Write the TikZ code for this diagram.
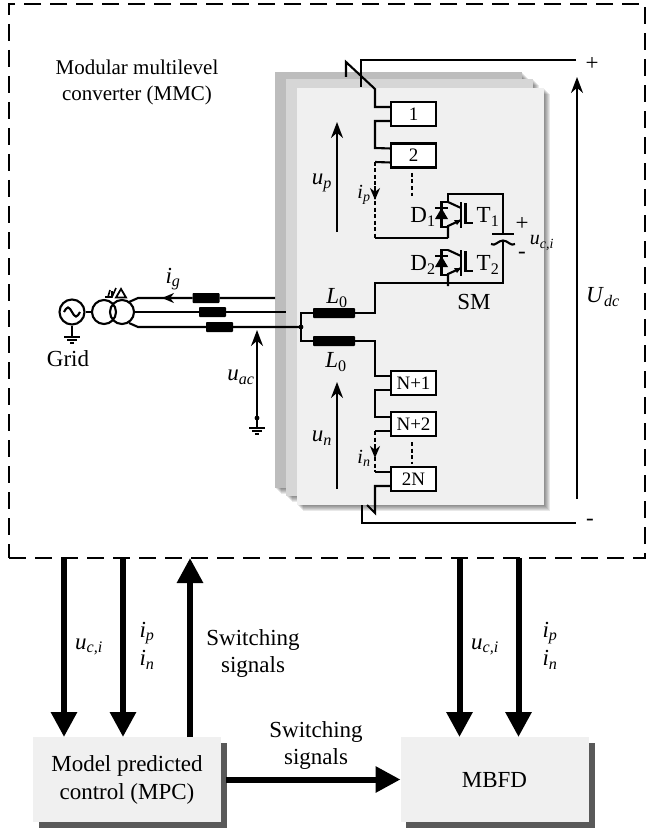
\documentclass[tikz,border=0pt]{standalone}
\usepackage{fontspec}
\setmainfont{Liberation Serif}
\usetikzlibrary{arrows.meta}
\newcommand{\sym}[2]{\textit{#1}\textsubscript{\textit{#2}}}
\tikzset{
	lbl/.style={inner sep=0pt, font=\fontsize{23}{27}\selectfont},
	small/.style={inner sep=0pt, font=\fontsize{20}{24}\selectfont},
	wire/.style={line width=2.1pt},
	dotwire/.style={line width=2.6pt, dash pattern=on 4pt off 2.5pt},
	smbox/.style={draw, fill=white, line width=2.1pt, minimum width=45pt, minimum height=24pt, inner sep=0pt, outer sep=0pt, font=\fontsize{19}{22}\selectfont},
	filt/.style={fill=black, rounded corners=0.8pt, minimum width=27pt, minimum height=10pt, inner sep=0pt, outer sep=0pt},
	block/.style={fill=black!6, minimum width=188pt, minimum height=85pt, inner sep=0pt, outer sep=0pt, align=center, font=\fontsize{23}{28}\selectfont},
	block shade/.style={fill=black!65},
	bigarrow/.style={line width=6pt, -{Triangle[length=25pt, width=25pt]}},
	thinarrow/.style={line width=2.2pt, -{Stealth[length=16pt, width=12pt]}},
	gnd/.pic={
		\draw[wire] (-8,0) -- (8,0);
		\draw[wire] (-5,3) -- (5,3);
		\draw[wire] (-2,6) -- (2,6);
	}
}
\begin{document}
\begin{tikzpicture}[x=1pt, y=-1pt, >=stealth]
	\useasboundingbox (0,0) rectangle (646,829);

	% Panels
	\foreach \xa/\ya/\xb/\yb/\shade in {275/72/522/488/26, 286/79/533/496/16, 297/88/544/505/6}{
		\foreach \s in {1,...,6}
			\fill[black, opacity=0.09] (\xa+\s,\ya+\s) rectangle (\xb+\s,\yb+\s);
		\fill[black!\shade] (\xa,\ya) rectangle (\xb,\yb);
	}

	% Converter frame
	\node[draw, dash pattern=on 17pt off 9pt, line width=2.8pt, minimum width=636pt, minimum height=554pt, inner sep=0pt, outer sep=0pt] (mmc) at (327,281) {};
	\node[inner sep=0pt, align=center, font=\fontsize{21}{26}\selectfont] (mmctext) at (137,82) {Modular multilevel\\converter (MMC)};

	% Submodules
	\node[smbox] (sm1) at (413.5,114) {1};
	\node[smbox] (sm2) at (413.5,155.5) {2};
	\node[smbox] (smn1) at (413.5,383) {N+1};
	\node[smbox] (smn2) at (413.5,424) {N+2};
	\node[smbox] (sm2n) at (413.5,479) {2N};

	% Upper arm
	\coordinate (dcp) at (576,60);
	\coordinate (ptop) at (361,60);
	\coordinate (pbase) at (361,87);
	\coordinate (phook) at (346,77);
	\coordinate (pkink) at (346,62);
	\coordinate (parm) at (375,89);
	\draw[wire] (dcp) -- (ptop) -- (pbase);
	\draw[wire] (phook) -- (pkink) -- (parm) |- ([yshift=7pt]sm1.west);
	\draw[wire] ([yshift=-7pt]sm1.west) -| (375,148) -- ([yshift=7pt]sm2.west);
	\coordinate (midpt) at (448,238);
	\draw[wire] ([yshift=-7pt]sm2.west) -- (375,162);
	\draw[dotwire] (375,162) -- (375,238);
	\draw[wire] (375,238) -- (midpt);
	\draw[wire, ->, >={Stealth[length=12pt, width=10pt]}] (375,186) -- (375,200);
	\draw[dotwire] (412,173) -- (412,196);

	% Cell
	\coordinate (cellne) at (503,194);
	\coordinate (cellse) at (503,283);
	\coordinate (capa) at (503,234);
	\coordinate (capb) at (503,240.5);
	\draw[wire] (448,202) |- (cellne) -- (capa);
	\draw[wire] (capb) -- (cellse) -- (375,283) -- (375,313) -- (355,313);
	\draw[wire] (492,234) -- (514,234);
	\draw[wire] (491,244) to[out=-35, in=180] (capb) to[out=0, in=215] (515,244);
	\foreach \dy in {0,48}{
		\begin{scope}[shift={(0,\dy)}]
			% Switch
			\draw[wire] (448,202) -- (461,208);
			\draw[wire] (461,220) -- (448,226) -- (448,238);
			\draw[wire] (461,202) -- (461,228);
			\draw[line width=2.6pt] (465.5,203) -- (465.5,223) -- (473,223);
			\fill (461,220) -- (454,220) -- (457,225) -- cycle;
			% Diode
			\draw[wire] (448,202) -- (441.5,202) -- (441.5,227) -- (448,227);
			\fill (441.5,208) -- (448,219) -- (435,219) -- cycle;
			\draw[wire] (435,208) -- (448,208);
		\end{scope}
	}
	\node[lbl] (d1) at (423,217) {D\textsubscript{1}};
	\node[lbl] (t1) at (488,217) {T\textsubscript{1}};
	\node[lbl] (d2) at (423,265) {D\textsubscript{2}};
	\node[lbl] (t2) at (488,265) {T\textsubscript{2}};
	\node[lbl] (capplus) at (522,224) {+};
	\node[lbl] (capminus) at (522,255) {-};
	\node[small] (capu) at (542,243) {\sym{u}{c,i}};
	\node[lbl] (smtext) at (474,302) {SM};

	% Arm inductors
	\node[filt, minimum width=42pt] (l0p) at (334,313) {};
	\node[filt, minimum width=42pt] (l0n) at (334,341) {};
	\node[lbl] (l0ptext) at (337,298) {\textit{L}\textsubscript{0}};
	\node[lbl] (l0ntext) at (336,362) {\textit{L}\textsubscript{0}};
	\coordinate (junct) at (301,327);
	\draw[wire] (l0p.east) -- (355,313);
	\draw[wire] (l0p.west) -| (junct) |- (l0n.west);
	\fill (junct) circle (2.4pt);

	% Lower arm
	\draw[wire] (l0n.east) -| (375,376) -- ([yshift=7pt]smn1.west);
	\draw[wire] ([yshift=-7pt]smn1.west) -| (375,417) -- ([yshift=7pt]smn2.west);
	\draw[wire] ([yshift=-7pt]smn2.west) -- (375,431);
	\draw[dotwire] (375,431) -- (375,472);
	\draw[wire] (375,472) -- ([yshift=7pt]sm2n.west);
	\draw[wire, ->, >={Stealth[length=12pt, width=10pt]}] (375,444) -- (375,458);
	\draw[dotwire] (412,442) -- (412,464);
	\coordinate (narm) at (375,513);
	\coordinate (nkink) at (367,505);
	\coordinate (nbase) at (362,505);
	\coordinate (dcn) at (576,523);
	\draw[wire] ([yshift=-7pt]sm2n.west) -| (narm) -- (nkink);
	\draw[wire] (nbase) |- (dcn);

	% Arm voltages
	\coordinate (upa) at (337,232);
	\coordinate (upb) at (337,122);
	\coordinate (una) at (337,489);
	\coordinate (unb) at (337,382);
	\draw[thinarrow] (upa) -- (upb);
	\draw[thinarrow] (una) -- (unb);
	\node[lbl] (uptext) at (322,183) {\sym{u}{p}};
	\node[lbl] (untext) at (322,438) {\sym{u}{n}};
	\node[small] (iptext) at (364,195) {\sym{i}{p}};
	\node[small] (intext) at (364,458) {\sym{i}{n}};

	% DC voltage
	\coordinate (udca) at (577,499);
	\coordinate (udcb) at (577,77);
	\draw[thinarrow] (udca) -- (udcb);
	\node[lbl] (udctext) at (603,297) {\sym{U}{dc}};
	\node[lbl] (dcplus) at (592,64) {+};
	\node[lbl] (dcminus) at (590,522) {-};

	% Grid side
	\node[circle, draw, line width=2.1pt, minimum size=25pt, inner sep=0pt] (src) at (72,312) {};
	\node[circle, draw, line width=2.1pt, minimum size=24pt, inner sep=0pt] (tfa) at (104,312) {};
	\node[circle, draw, line width=2.1pt, minimum size=24pt, inner sep=0pt] (tfb) at (122,312) {};
	\draw[wire] (src) -- (tfa);
	\draw[wire] (64,312) sin (68,307.5) cos (72,312) sin (76,316.5) cos (80,312);
	\coordinate (srcgnd) at (72,337);
	\draw[wire] (src) -- (srcgnd);
	\pic at (srcgnd) {gnd};
	\node[lbl] (gridtext) at (68,359) {Grid};

	% Winding symbols
	\draw[line width=1.6pt] (105,297) -- (112,297) -- (116,288) (108,297) -- (110,290) (112,297) -- (112,291);
	\draw[line width=1.8pt] (116,297.5) -- (121,289) -- (126,297.5) -- cycle;

	% Grid filters and lines
	\node[filt] (fa) at (206,298) {};
	\node[filt] (fb) at (212.5,312) {};
	\node[filt] (fc) at (219.5,327) {};
	\coordinate (lineA) at (138,298);
	\coordinate (lineC) at (138,327);
	\draw[wire] (129,302) -- (lineA) -- (fa) -- (275,298);
	\draw[wire] (tfb.east) -- (fb) -- (286,312);
	\draw[wire] (129,323) -- (lineC) -- (fc) -- (junct);
	\draw[wire, ->, >={Stealth[length=12pt, width=10pt]}] (178,298) -- (162,298);
	\node[lbl] (igtext) at (173,279) {\sym{i}{g}};

	% AC voltage
	\coordinate (uaca) at (257,418);
	\coordinate (uacb) at (257,330);
	\coordinate (uacgnd) at (257,428);
	\draw[thinarrow] (uaca) -- (uacb);
	\draw[wire] (uaca) -- (uacgnd);
	\fill (uaca) circle (2.4pt);
	\pic at (uacgnd) {gnd};
	\node[lbl] (uactext) at (241,377) {\sym{u}{ac}};

	% Lower blocks
	\fill[block shade] (39,743) rectangle (227,828);
	\fill[block shade] (406,743) rectangle (595,828);
	\node[block] (mpc) at (127,779.5) {Model predicted\\control (MPC)};
	\node[block] (mbfd) at (494.5,779.5) {MBFD};

	% Signals
	\draw[bigarrow] ([xshift=31pt]mpc.north west |- mmc.south) -- ([xshift=31pt]mpc.north west);
	\draw[bigarrow] ([xshift=90pt]mpc.north west |- mmc.south) -- ([xshift=90pt]mpc.north west);
	\draw[bigarrow] ([xshift=157pt]mpc.north west) -- ([xshift=157pt]mpc.north west |- mmc.south);
	\draw[bigarrow] ([xshift=59pt]mbfd.north west |- mmc.south) -- ([xshift=59pt]mbfd.north west);
	\draw[bigarrow] ([xshift=118pt]mbfd.north west |- mmc.south) -- ([xshift=118pt]mbfd.north west);
	\draw[bigarrow] ([xshift=5pt]mpc.east) -- (mbfd.west);

	% Signal labels
	\node[lbl] (uctext) at (89,647) {\sym{u}{c,i}};
	\node[lbl] (ipa) at (147,633) {\sym{i}{p}};
	\node[lbl] (ina) at (147,660) {\sym{i}{n}};
	\node[lbl, align=center] (swa) at (253,653) {Switching\\signals\hspace{12pt}};
	\node[lbl, align=center] (swb) at (316,745) {Switching\\signals\hspace{12pt}};
	\node[lbl] (ucb) at (485,647) {\sym{u}{c,i}};
	\node[lbl] (ipb) at (550,633) {\sym{i}{p}};
	\node[lbl] (inb) at (550,660) {\sym{i}{n}};
\end{tikzpicture}
\end{document}
